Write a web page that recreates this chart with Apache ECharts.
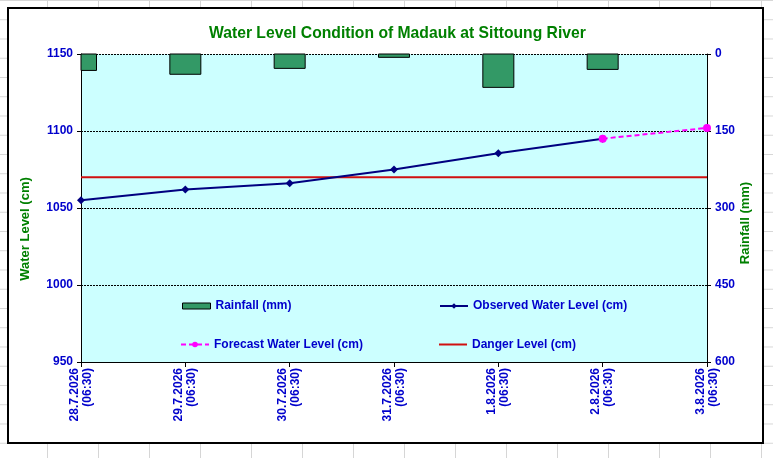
<!DOCTYPE html>
<html>
<head>
<meta charset="utf-8">
<script src="https://cdn.jsdelivr.net/npm/echarts@6/dist/echarts.min.js"></script>
<style>
  html, body { margin: 0; padding: 0; width: 773px; height: 458px; overflow: hidden; }
  body {
    background-color: #ffffff;
    background-image: linear-gradient(to right, #d6d6d6 1px, transparent 1px),
                      linear-gradient(to bottom, #d6d6d6 1px, transparent 1px);
    background-size: 51px 19.25px;
    background-position: 47px 0px;
  }
  #frame {
    position: absolute; left: 7px; top: 7px; width: 757px; height: 437px;
    box-sizing: border-box; border: 2px solid #000; background: #fff;
  }
  #chart { position: absolute; left: 0; top: 0; width: 753px; height: 433px; }
</style>
</head>
<body>
<div id="frame"><div id="chart"></div></div>
<script>
// ---- data ----
var dates = ['28.7.2026', '29.7.2026', '30.7.2026', '31.7.2026', '1.8.2026', '2.8.2026', '3.8.2026'];
var times = ['(06:30)', '(06:30)', '(06:30)', '(06:30)', '(06:30)', '(06:30)', '(06:30)'];
var rainfall = [32, 39.5, 28, 6.5, 65, 30, null];
var observedLevel = [1055, 1062, 1066, 1075, 1085.5, 1095, null];
var forecastLevel = [null, null, null, null, null, 1095, 1102];
var dangerLevel = [1070, 1070, 1070, 1070, 1070, 1070, 1070];
var waterTicks = { min: 950, max: 1150, interval: 50 };
var rainTicks = { min: 0, max: 600, interval: 150 };

var categories = dates.map(function (d, i) { return d + '\n' + times[i]; });
var rainData = rainfall.map(function (v, i) { return [i, v]; });

var FONT = "'Liberation Sans', Arial, sans-serif";
var BLUE = '#0000cc';
var GREEN = '#008000';
var RAIN_COLOR = '#339966';
var DANGER_COLOR = '#d01010';

var chart = echarts.init(document.getElementById('chart'));
var legendText = { color: BLUE, fontWeight: 'bold', fontSize: 12, fontFamily: FONT };
function legendAt(name, left, top, extra) {
  var o = {
    data: [name], left: left, top: top, padding: 0, itemWidth: 28, itemHeight: 7,
    itemGap: 0, textStyle: legendText, selectedMode: false
  };
  if (extra) { for (var k in extra) o[k] = extra[k]; }
  return o;
}

function renderRain(params, api) {
  var v = api.value(1);
  if (v == null || isNaN(v)) return null;
  var idx = api.value(0);
  var p0 = api.coord([idx, 0]);
  var p1 = api.coord([idx, v]);
  var w = 31;
  var cs = params.coordSys;
  var rect = echarts.graphic.clipRectByRect(
    { x: p0[0] - w / 2, y: p0[1], width: w, height: p1[1] - p0[1] },
    { x: cs.x, y: cs.y, width: cs.width, height: cs.height }
  );
  if (!rect) return null;
  return {
    type: 'rect', shape: rect,
    style: { fill: RAIN_COLOR, stroke: '#000', lineWidth: 1 }
  };
}

chart.setOption({
  animation: false,
  title: {
    text: 'Water Level Condition of Madauk at Sittoung River',
    left: 200, top: 17, padding: 0,
    textStyle: { color: GREEN, fontWeight: 'bold', fontSize: 15.7, fontFamily: FONT }
  },
  grid: {
    left: 72, right: 55, top: 45, bottom: 80,
    show: true, backgroundColor: '#ccffff', borderWidth: 0
  },
  legend: [
    legendAt('Rainfall (mm)', 173, 291, {
      icon: 'rect', itemHeight: 6,
      itemStyle: { color: RAIN_COLOR, borderColor: '#000', borderWidth: 1 }
    }),
    legendAt('Observed Water Level (cm)', 430, 291),
    legendAt('Forecast Water Level (cm)', 171, 329.5),
    legendAt('Danger Level (cm)', 430, 329.5, {
      icon: 'rect', itemHeight: 2,
      itemStyle: { color: DANGER_COLOR, borderWidth: 0 }
    })
  ],
  xAxis: {
    type: 'category', data: categories, boundaryGap: false, position: 'bottom',
    axisLine: { show: true, onZero: false, lineStyle: { color: '#000', width: 1 } },
    axisTick: { show: true, length: 5, alignWithLabel: true, lineStyle: { color: '#000' } },
    axisLabel: {
      rotate: 90, interval: 0, margin: 6, color: BLUE, fontWeight: 'bold',
      fontSize: 12, fontFamily: FONT, lineHeight: 13
    },
    splitLine: { show: false }
  },
  yAxis: [
    {
      type: 'value', min: waterTicks.min, max: waterTicks.max, interval: waterTicks.interval,
      position: 'left',
      axisLine: { show: true, lineStyle: { color: '#000', width: 1 } },
      axisTick: { show: true, length: 4, lineStyle: { color: '#000' } },
      axisLabel: {
        margin: 8, color: BLUE, fontWeight: 'bold', fontSize: 12, fontFamily: FONT,
        formatter: function (v) { return String(v); }
      },
      splitLine: { show: true, showMinLine: false, lineStyle: { color: '#000', width: 1, type: [2, 1] } }
    },
    {
      type: 'value', min: rainTicks.min, max: rainTicks.max, interval: rainTicks.interval,
      position: 'right', inverse: true,
      axisLine: { show: true, lineStyle: { color: '#000', width: 1 } },
      axisTick: { show: true, length: 4, lineStyle: { color: '#000' } },
      axisLabel: {
        margin: 8, color: BLUE, fontWeight: 'bold', fontSize: 12, fontFamily: FONT,
        formatter: function (v) { return String(v); }
      },
      splitLine: { show: false }
    }
  ],
  graphic: [
    {
      type: 'text', x: 16, y: 220, rotation: Math.PI / 2,
      style: { text: 'Water Level (cm)', fill: GREEN, font: 'bold 13px ' + FONT, align: 'center', verticalAlign: 'middle' }
    },
    {
      type: 'text', x: 736, y: 214, rotation: Math.PI / 2,
      style: { text: 'Rainfall (mm)', fill: GREEN, font: 'bold 13px ' + FONT, align: 'center', verticalAlign: 'middle' }
    }
  ],
  series: [
    {
      name: 'Rainfall (mm)', type: 'custom', yAxisIndex: 1, data: rainData,
      encode: { x: 0, y: 1 }, renderItem: renderRain,
      itemStyle: { color: RAIN_COLOR, borderColor: '#000', borderWidth: 1 }
    },
    {
      name: 'Danger Level (cm)', type: 'line', data: dangerLevel, symbol: 'none',
      lineStyle: { color: DANGER_COLOR, width: 2 }, itemStyle: { color: DANGER_COLOR }
    },
    {
      name: 'Observed Water Level (cm)', type: 'line', data: observedLevel,
      symbol: 'diamond', symbolSize: 8,
      lineStyle: { color: '#000080', width: 2 }, itemStyle: { color: '#000080' }
    },
    {
      name: 'Forecast Water Level (cm)', type: 'line', data: forecastLevel,
      symbol: 'circle', symbolSize: 8,
      lineStyle: { color: '#ff00ff', width: 2, type: [5, 3] }, itemStyle: { color: '#ff00ff' }
    }
  ]
});
</script>
</body>
</html>
